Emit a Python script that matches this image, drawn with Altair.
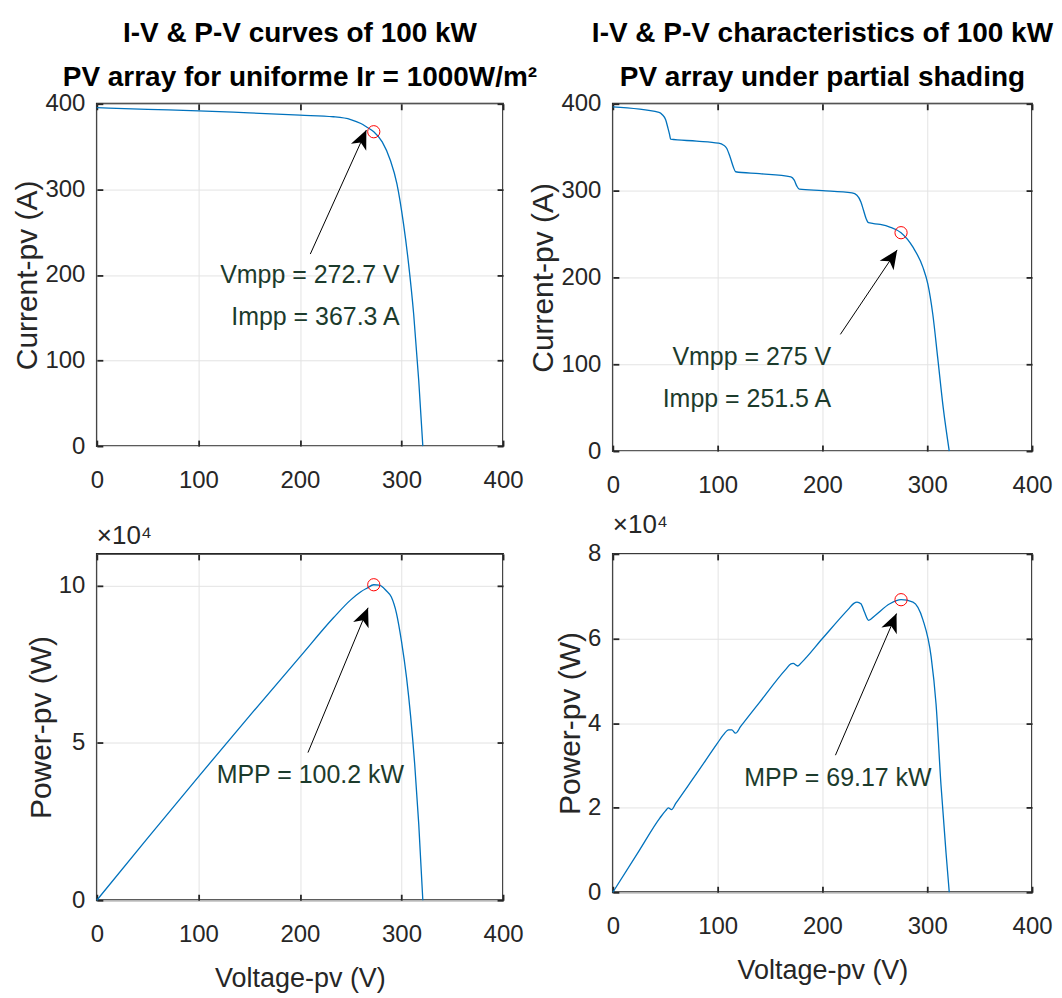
import math
import altair as alt
import pandas as pd

# ---------------- values ----------------
# Uniform irradiance (1000 W/m2): I-V curve
v_iv_uniform = [0, 50, 100, 150, 200, 233, 250, 260, 266, 272.7, 281, 289, 295.5, 302, 307, 312, 317, 321]
i_iv_uniform = [395.5, 393.5, 391.8, 389.3, 386.7, 384.8, 381.6, 376.9, 372.5, 367.3, 355.4, 334.0,
                306.5, 259.6, 212.7, 154.0, 76.0, 0]

# Uniform irradiance: P-V curve
v_pv_uniform = [0, 50, 100, 150, 200, 233, 250, 260, 266, 272.7, 278, 285, 290, 295, 300, 305, 309, 313, 317, 321]
p_pv_uniform = [0, 19700, 39200, 58400, 77300, 89700, 95400, 98000, 99100, 100200, 100100, 98300, 96300,
                91200, 82200, 70600, 58400, 43200, 24100, 0]

# Partial shading: I-V curve
v_iv_shade = [0, 44.1, 47.2, 50.4, 52.6, 54.2, 55.1, 80, 100.7, 105.4, 108.6, 111.8, 114.9, 117.1, 140,
              169.9, 173.1, 175.6, 177.9, 200, 228.2, 232.9, 236.7, 239.2, 241.7, 243.9, 255, 264.3, 275,
              286.4, 295.9, 300.6, 305.3, 310, 315.3, 321]
i_iv_shade = [396.3, 390.0, 387.4, 381.6, 371.9, 364.2, 359.2, 357.0, 354.6, 352.6, 348.8, 339.0, 327.5,
              321.7, 319.5, 315.9, 312.0, 305.1, 301.6, 300.0, 297.3, 294.7, 286.9, 277.3, 267.7, 263.0,
              261.0, 258.0, 251.5, 234.8, 211.6, 192.3, 157.6, 107.3, 49.4, 0]

# Partial shading: P-V curve
v_pv_shade = [0, 25, 45, 50.4, 53, 56, 60, 80, 100, 105.4, 110.5, 113.5, 117.1, 122, 140, 165, 169.9, 172,
              176.5, 180, 200, 225, 230, 233, 236.7, 240, 244, 250, 264.3, 275, 286.4, 295.9, 303.7, 308.4,
              313.1, 317.9, 321]
p_pv_shade = [0, 9800, 17600, 19300, 19950, 19550, 21000, 28100, 35300, 37200, 38400, 38400, 37600, 39200,
              44900, 52700, 54000, 54100, 53500, 54300, 60000, 67000, 68300, 68600, 68200, 66300, 64300,
              65400, 68200, 69170, 68600, 64400, 55700, 44500, 25400, 9400, 0]

# Maximum power points (red circles): [uniform I-V, shade I-V, uniform P-V, shade P-V]
mpp_v = [272.7, 275.0, 272.7, 275.0]
mpp_y = [367.3, 251.5, 100200, 69170]

# Annotation arrows: tail (v0, y0) -> tip (v1, y1)
arrow_v0 = [210.2, 217.1, 207.9, 212.4]
arrow_y0 = [224.4, 134.4, 46900, 32400]
arrow_v1 = [265.4, 271.3, 267.1, 270.7]
arrow_y1 = [369.2, 231.7, 92900, 65900]

# Annotation texts
ann_uniform_iv_v = [298.2, 298.2]
ann_uniform_iv_y = [199.4, 150.7]
ann_uniform_iv_t = ["Vmpp = 272.7 V", "Impp = 367.3 A"]
ann_shade_iv_v = [208.3, 208.3]
ann_shade_iv_y = [108.5, 60.3]
ann_shade_iv_t = ["Vmpp = 275 V", "Impp = 251.5 A"]
ann_uniform_pv_v = [210.2]
ann_uniform_pv_y = [39800]
ann_uniform_pv_t = ["MPP = 100.2 kW"]
ann_shade_pv_v = [214.8]
ann_shade_pv_y = [27000]
ann_shade_pv_t = ["MPP = 69.17 kW"]

x_ticks = [0, 100, 200, 300, 400]
i_ticks = [0, 100, 200, 300, 400]
p_ticks_uniform = [0, 50000, 100000]
p_ticks_shade = [0, 20000, 40000, 60000, 80000]

title_uniform = ["I-V & P-V curves  of 100 kW", "PV array for uniforme Ir = 1000W/m\u00b2"]
title_shade = ["I-V & P-V characteristics of 100 kW", "PV array under partial shading"]
exp_label = "\u00d710\u2074"

# ---------------- styling ----------------
BLUE = "#0072BD"
DARK = "#262626"
GRID = "#e3e3e3"
ANN = "#1c3b2c"
FONT = "Liberation Sans, Arial, sans-serif"
ARROW_SHAPE = "M0,0L0.8,1.8L0,1.3L-0.8,1.8Z"
TICK = 6


def tick_only(orient, values, offset):
    # inward tick marks: an axis shifted into the plot so its outward ticks end on the frame
    return alt.Axis(orient=orient, offset=offset, values=values, labels=False, domain=False,
                    grid=False, ticks=True, tickSize=TICK, tickWidth=1.8, tickColor=DARK,
                    minExtent=0, maxExtent=0, title=None)


def panel(v, y, ydom, yticks, ylab_expr, ytitle, show_xtitle, k, ann_v, ann_y, ann_t, ann_align,
          width, height, title):
    xs = alt.Scale(domain=[0, 400], nice=False, zero=False)
    ys = alt.Scale(domain=ydom, nice=False, zero=False)
    ykw = dict(orient="left", values=yticks, grid=True, gridColor=GRID, gridWidth=1, ticks=False,
               domain=False, labelFont=FONT, labelFontSize=24, labelColor=DARK, labelPadding=12,
               labelFlush=False, title=ytitle, titleFont=FONT, titleFontSize=30,
               titleFontWeight="normal", titleColor=DARK, titlePadding=2)
    if ylab_expr:
        ykw["labelExpr"] = ylab_expr
    xkw = dict(orient="bottom", values=x_ticks, grid=True, gridColor=GRID, gridWidth=1, ticks=False,
               domain=False, labelFont=FONT, labelFontSize=24, labelColor=DARK, labelPadding=22,
               labelFlush=False)
    if show_xtitle:
        xkw.update(title="Voltage-pv (V)", titleFont=FONT, titleFontSize=27,
                   titleFontWeight="normal", titleColor=DARK, titlePadding=19)
    else:
        xkw["title"] = None

    curve = pd.DataFrame({"v": v, "y": y})
    line = alt.Chart(curve).mark_line(color=BLUE, strokeWidth=1.3, interpolate="monotone").encode(
        x=alt.X("v:Q", scale=xs, axis=alt.Axis(**xkw)),
        y=alt.Y("y:Q", scale=ys, axis=alt.Axis(**ykw)),
    )

    mpp = pd.DataFrame({"v": [mpp_v[k]], "y": [mpp_y[k]]})
    marker = alt.Chart(mpp).mark_point(shape="circle", filled=False, color="red", size=150,
                                        strokeWidth=1, opacity=1).encode(
        x=alt.X("v:Q", scale=xs, axis=tick_only("bottom", x_ticks, -TICK)),
        y=alt.Y("y:Q", scale=ys, axis=tick_only("left", yticks, -TICK)),
    )

    # arrow head direction in screen space
    sx = width / 400.0
    sy = height / float(ydom[1] - ydom[0])
    dx = (arrow_v1[k] - arrow_v0[k]) * sx
    dy = -(arrow_y1[k] - arrow_y0[k]) * sy
    ang = math.degrees(math.atan2(dx, -dy)) % 360
    arr = pd.DataFrame({"v0": [arrow_v0[k]], "y0": [arrow_y0[k]], "v1": [arrow_v1[k]],
                        "y1": [arrow_y1[k]], "ang": [ang]})
    shaft = alt.Chart(arr).mark_rule(color="black", strokeWidth=1).encode(
        x=alt.X("v0:Q", scale=xs, axis=tick_only("bottom", x_ticks, -height)),
        y=alt.Y("y0:Q", scale=ys, axis=tick_only("left", yticks, -width)),
        x2="v1:Q", y2="y1:Q",
    )
    head = alt.Chart(arr).mark_point(shape=ARROW_SHAPE, filled=True, color="black", size=440,
                                      opacity=1, strokeWidth=0).encode(
        x=alt.X("v1:Q", scale=xs, axis=None),
        y=alt.Y("y1:Q", scale=ys, axis=None),
        angle=alt.Angle("ang:Q", scale=None),
    )

    ann = pd.DataFrame({"v": ann_v, "y": ann_y, "t": ann_t})
    text = alt.Chart(ann).mark_text(align=ann_align, baseline="middle", font=FONT, fontSize=25,
                                    color=ANN).encode(
        x=alt.X("v:Q", scale=xs, axis=None),
        y=alt.Y("y:Q", scale=ys, axis=None),
        text="t:N",
    )

    return alt.layer(line, marker, shaft, head, text).resolve_axis(
        x="independent", y="independent").properties(width=width, height=height, title=title)


def main_title(lines):
    return alt.TitleParams(text=lines, font=FONT, fontSize=28, fontWeight="bold", color="black",
                           lineHeight=44, anchor="middle", frame="group", baseline="bottom",
                           offset=-28)


def exp_title():
    return alt.TitleParams(text=exp_label, font=FONT, fontSize=26, fontWeight="normal", color=DARK,
                           anchor="start", frame="group", baseline="bottom", offset=-22)


tl = panel(v_iv_uniform, i_iv_uniform, [0, 400], i_ticks, None, "Current-pv (A)", False, 0,
           ann_uniform_iv_v, ann_uniform_iv_y, ann_uniform_iv_t, "right", 407, 343,
           main_title(title_uniform))
tr = panel(v_iv_shade, i_iv_shade, [0, 400], i_ticks, None, "Current-pv (A)", False, 1,
           ann_shade_iv_v, ann_shade_iv_y, ann_shade_iv_t, "right", 420, 348,
           main_title(title_shade))
bl = panel(v_pv_uniform, p_pv_uniform, [0, 110000], p_ticks_uniform, "datum.value / 10000",
           "Power-pv (W)", True, 2, ann_uniform_pv_v, ann_uniform_pv_y, ann_uniform_pv_t, "center",
           407, 347, exp_title())
br = panel(v_pv_shade, p_pv_shade, [0, 80000], p_ticks_shade, "datum.value / 10000",
           "Power-pv (W)", True, 3, ann_shade_pv_v, ann_shade_pv_y, ann_shade_pv_t, "center",
           420, 339, exp_title())

chart = alt.concat(tl, tr, bl, br, columns=2, spacing={"row": 103, "column": 110},
                   align="none", bounds="flush").properties(
    padding={"left": 4, "top": 10, "right": 0, "bottom": 0}, background="white"
).configure_view(stroke=DARK, strokeWidth=1.8)

chart.save("out.html", embed_options={"renderer": "svg", "actions": False})
